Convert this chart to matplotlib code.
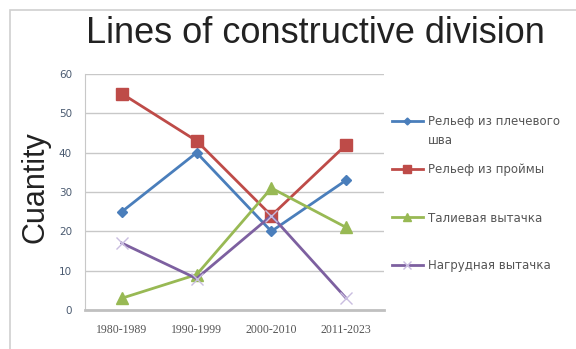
import matplotlib.pyplot as plt
from matplotlib.patches import Rectangle

periods = ['1980-1989', '1990-1999', '2000-2010', '2011-2023']
shoulder_relief = [25, 40, 20, 33]
armhole_relief = [55, 43, 24, 42]
waist_dart = [3, 9, 31, 21]
bust_dart = [17, 8, 24, 3]
labels = ['Рельеф из плечевого', 'Рельеф из проймы', 'Талиевая вытачка', 'Нагрудная вытачка']
label_second_line = 'шва'

W, H = 576, 349
fig = plt.figure(figsize=(W / 100, H / 100), dpi=100)

# chart frame like a spreadsheet chart box
fig.patches.append(Rectangle((10 / W, -0.01), 0.99, 1 - 10 / H + 0.01, transform=fig.transFigure,
                             facecolor='none', edgecolor='#d0d0d0', lw=1.2))

ax = fig.add_axes([84.5 / W, 1 - 310 / H, 299 / W, 236 / H])
x = range(len(periods))

l1, = ax.plot(x, shoulder_relief, color='#4a7ebb', marker='D', markersize=5, lw=2)
l2, = ax.plot(x, armhole_relief, color='#be4b48', marker='s', markersize=8, lw=2)
l3, = ax.plot(x, waist_dart, color='#98b954', marker='^', markersize=8, lw=2)
l4, = ax.plot(x, bust_dart, color='#7d60a0', marker='x', markersize=9, mew=1, mec='#c9bde0', lw=2)

ax.set_xlim(-0.5, 3.5)
ax.set_ylim(0, 60)
ax.set_yticks(range(0, 61, 10))
ax.set_xticks(list(x))
ax.set_xticklabels(periods, fontsize=8.5, color='#555555', family='Liberation Serif')
ax.tick_params(axis='y', labelsize=7.5, labelcolor='#4a5a70', length=0, pad=9)
ax.tick_params(axis='x', length=0, pad=10)
ax.grid(axis='y', color='#c8c8c8', lw=1)
ax.set_axisbelow(True)
for s in ['top', 'right']:
    ax.spines[s].set_visible(False)
ax.spines['left'].set_color('#c8c8c8')
ax.spines['bottom'].set_color('#c0c0c0')
ax.spines['bottom'].set_linewidth(2)

ax.set_ylabel('Cuantity', fontsize=22, color='#222222', family='Liberation Sans')
ax.yaxis.set_label_coords(-0.115, 0.52)
fig.text(315 / W, 1 - 43 / H, 'Lines of constructive division', fontsize=26, ha='center',
         va='baseline', color='#222222', family='Liberation Sans')

# legend entries placed like the spreadsheet legend slots
fs = 8.5
legend_y = [122, 170, 218, 266]
for h, lab, yc in zip([l1, l2, l3, l4], labels, legend_y):
    fig.legend([h], [lab], loc='center left', bbox_to_anchor=(392 / W, 1 - yc / H),
               bbox_transform=fig.transFigure, frameon=False, fontsize=fs, labelcolor='#555555',
               handlelength=2.6, handletextpad=0.42, borderpad=0, borderaxespad=0, markerscale=0.7)
fig.text(428 / W, 1 - 140 / H, label_second_line, fontsize=fs, color='#555555', va='center')

plt.savefig('out.png', dpi=100)
